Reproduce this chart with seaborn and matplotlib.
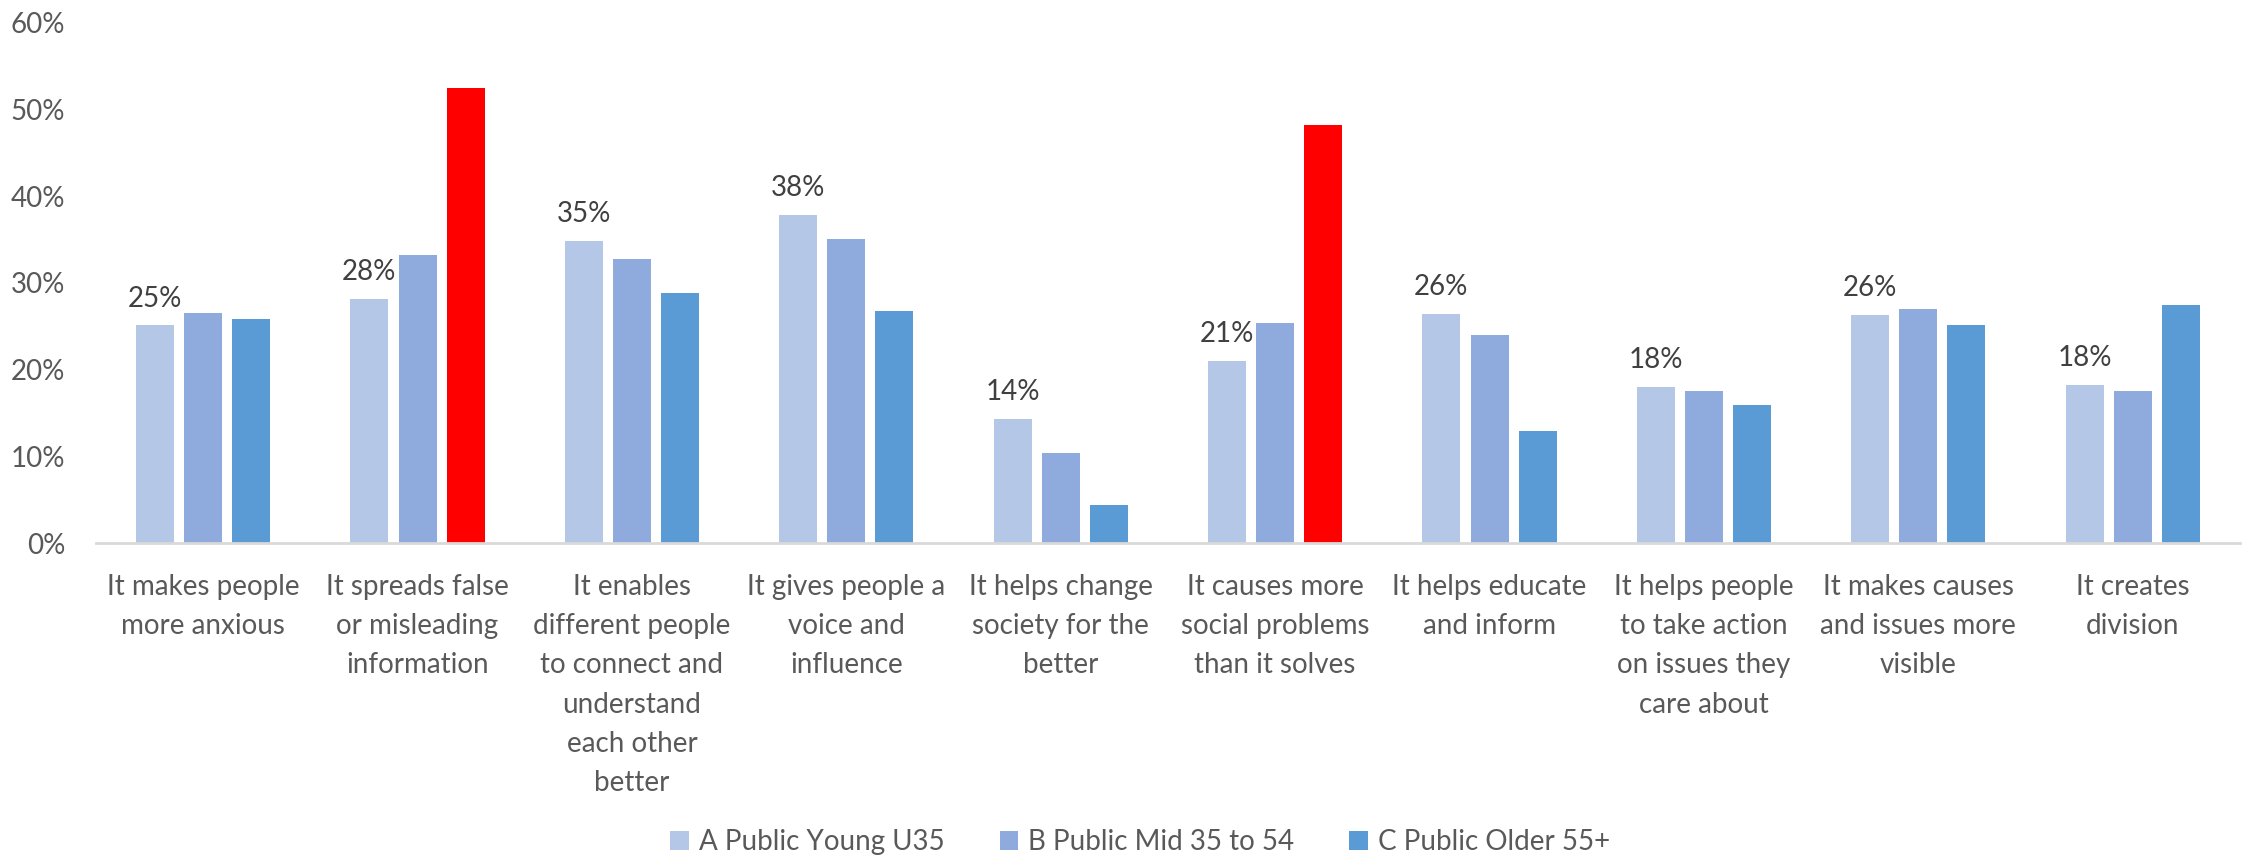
import seaborn as sns
import matplotlib.pyplot as plt
import pandas as pd
from matplotlib import font_manager
from matplotlib.patches import Patch

CATEGORIES = [
    "It makes people\nmore anxious",
    "It spreads false\nor misleading\ninformation",
    "It enables\ndifferent people\nto connect and\nunderstand\neach other\nbetter",
    "It gives people a\nvoice and\ninfluence",
    "It helps change\nsociety for the\nbetter",
    "It causes more\nsocial problems\nthan it solves",
    "It helps educate\nand inform",
    "It helps people\nto take action\non issues they\ncare about",
    "It makes causes\nand issues more\nvisible",
    "It creates\ndivision",
]
SERIES = ["A Public Young U35", "B Public Mid 35 to 54", "C Public Older 55+"]
YOUNG = [25.1, 28.1, 34.8, 37.8, 14.3, 21.0, 26.4, 18.0, 26.3, 18.2]
MID = [26.5, 33.2, 32.7, 35.1, 10.4, 25.4, 24.0, 17.6, 27.0, 17.6]
OLDER = [25.8, 52.5, 28.8, 26.8, 4.4, 48.2, 12.9, 15.9, 25.2, 27.5]
HIGHLIGHT = [1, 5]  # older bars drawn in red
COLORS = ["#B4C7E7", "#8FAADC", "#5B9BD5"]
RED = "#FF0000"

installed = {f.name for f in font_manager.fontManager.ttflist}
FONT = "Liberation Sans Narrow" if "Liberation Sans Narrow" in installed else "Lato"
plt.rcParams["font.family"] = [FONT, "DejaVu Sans"]
FS = 20

df = pd.DataFrame({
    "cat": CATEGORIES * 3,
    "group": [s for s in SERIES for _ in CATEGORIES],
    "value": YOUNG + MID + OLDER,
})

fig = plt.figure(figsize=(22.46, 8.61), dpi=100)
ax = fig.add_axes([0.0427, 0.369, 0.9546, 0.6049])

sns.barplot(data=df, x="cat", y="value", hue="group", hue_order=SERIES,
            palette=COLORS, width=0.673, gap=0.21, ax=ax, legend=False,
            errorbar=None, saturation=1, linewidth=0)

for i in HIGHLIGHT:
    ax.containers[2].patches[i].set_facecolor(RED)

ax.bar_label(ax.containers[0], labels=[f"{v:.0f}%" for v in YOUNG],
             padding=10, fontsize=FS, color="#404040")

ax.set_xlim(-0.5, 9.5)
ax.set_ylim(0, 60)
ax.set_yticks(range(0, 61, 10))
ax.set_yticklabels([f"{t}%" for t in range(0, 61, 10)])
ax.tick_params(axis="y", length=0, pad=22, labelsize=FS, labelcolor="#595959")
ax.tick_params(axis="x", length=0, pad=22, labelsize=FS, labelcolor="#595959")
for lbl in ax.get_xticklabels():
    lbl.set_linespacing(1.63)
ax.set_xlabel("")
ax.set_ylabel("")
for s in ["top", "right", "left"]:
    ax.spines[s].set_visible(False)
ax.spines["bottom"].set_color("#D9D9D9")
ax.spines["bottom"].set_linewidth(2)

handles = [Patch(facecolor=c, label=s) for c, s in zip(COLORS, SERIES)]
fig.legend(handles=handles, loc="center", bbox_to_anchor=(0.5076, 0.022), ncol=3,
           frameon=False, fontsize=FS, labelcolor="#595959",
           handlelength=0.65, handleheight=0.65, handletextpad=0.36, columnspacing=2.0)

fig.savefig("out.png", dpi=100)
